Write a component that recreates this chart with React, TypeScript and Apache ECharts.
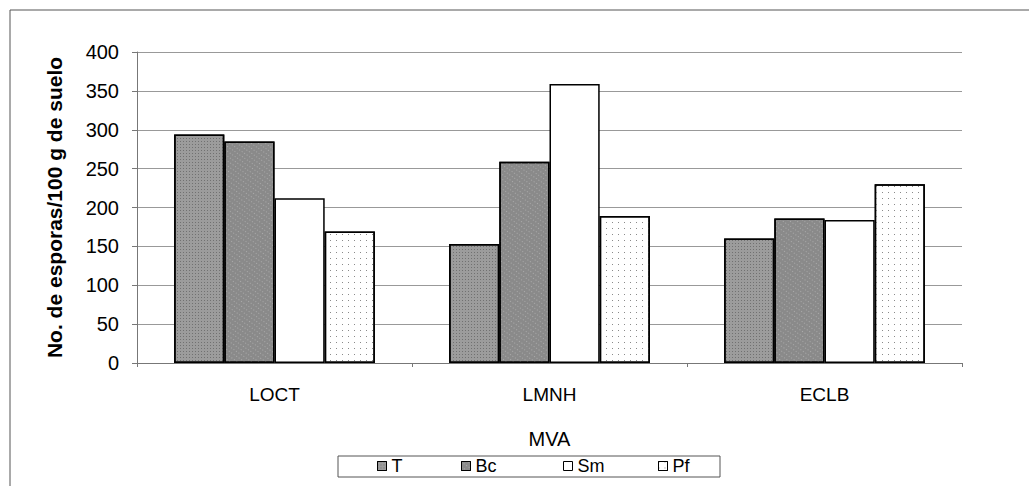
import React, { useEffect, useRef } from "react";
import * as echarts from "echarts";

const categories = ["LOCT", "LMNH", "ECLB"];
const seriesNames = ["T", "Bc", "Sm", "Pf"];
const valuesT = [294, 153, 160];
const valuesBc = [285, 259, 186];
const valuesSm = [212, 359, 184];
const valuesPf = [169, 189, 230];
const yTicks = [0, 50, 100, 150, 200, 250, 300, 350, 400];

const FONT = "'Liberation Sans', Arial, sans-serif";

export default function App() {
  const ref = useRef<HTMLDivElement>(null);
  useEffect(() => {
    if (!ref.current) return;
    const chart = echarts.init(ref.current, null, { renderer: "svg" });
    const styles = [
      {
        color: "#9c9c9c",
        borderColor: "#000",
        borderWidth: 1.5,
        decal: {
          symbol: "rect",
          symbolSize: 1,
          color: "rgba(60,60,60,0.45)",
          dashArrayX: [1, 2],
          dashArrayY: [1, 2],
          rotation: 0,
        },
      },
      {
        color: "#8a8a8a",
        borderColor: "#000",
        borderWidth: 1.5,
        decal: {
          symbol: "rect",
          symbolSize: 1,
          color: "rgba(210,210,210,0.45)",
          dashArrayX: [1, 2],
          dashArrayY: [1, 3],
          rotation: 0.6,
        },
      },
      { color: "#ffffff", borderColor: "#000", borderWidth: 1.5 },
      {
        color: "#ffffff",
        borderColor: "#000",
        borderWidth: 1.5,
        decal: {
          symbol: "rect",
          symbolSize: 1,
          color: "#8a8a8a",
          dashArrayX: [1, 5],
          dashArrayY: [1, 5],
          rotation: 0,
        },
      },
    ];
    const dataSets = [valuesT, valuesBc, valuesSm, valuesPf];
    const legendX = [377, 461, 563, 658];
    chart.setOption({
      animation: false,
      textStyle: { fontFamily: FONT, color: "#000" },
      grid: { left: 137, right: 67, top: 52, bottom: 123 },
      xAxis: {
        type: "category",
        data: categories,
        name: "MVA",
        nameLocation: "middle",
        nameGap: 66,
        nameTextStyle: { fontSize: 20, fontFamily: FONT, color: "#000" },
        axisLine: { lineStyle: { color: "#777", width: 1 } },
        axisTick: { show: true, length: 4, lineStyle: { color: "#777" } },
        axisLabel: { fontSize: 19, color: "#000", margin: 22, fontFamily: FONT },
      },
      yAxis: {
        type: "value",
        min: 0,
        max: 400,
        interval: 50,
        name: "No. de esporas/100 g de suelo",
        nameLocation: "middle",
        nameGap: 72,
        nameTextStyle: { fontSize: 21, fontWeight: "bold", fontFamily: FONT, color: "#000" },
        axisLine: { show: true, lineStyle: { color: "#777", width: 1 } },
        axisTick: { show: true, length: 5, lineStyle: { color: "#777" } },
        axisLabel: {
          fontSize: 20,
          color: "#000",
          margin: 18,
          fontFamily: FONT,
          formatter: (v: number) => (yTicks.includes(v) ? String(v) : ""),
        },
        splitLine: { show: true, lineStyle: { color: "#999", width: 1 } },
      },
      legend: seriesNames.map((n, i) => ({
        data: [n],
        left: legendX[i],
        top: 457,
        padding: 0,
        itemWidth: 9,
        itemHeight: 9,
        itemGap: 8,
        icon: "rect",
        itemStyle: { borderColor: "#000", borderWidth: 1 },
        textStyle: { fontSize: 18, fontFamily: FONT, color: "#000", lineHeight: 18, padding: [0, 0, 0, 0] },
        selectedMode: false,
      })),
      series: seriesNames.map((n, i) => ({
        name: n,
        type: "bar",
        data: dataSets[i],
        barGap: "0%",
        barCategoryGap: "27%",
        itemStyle: styles[i],
        emphasis: { disabled: true },
      })),
      graphic: [
        { type: "line", shape: { x1: 10, y1: 10, x2: 1029, y2: 10 }, style: { stroke: "#555", lineWidth: 1 } },
        { type: "line", shape: { x1: 10, y1: 10, x2: 10, y2: 486 }, style: { stroke: "#555", lineWidth: 1 } },
        {
          type: "rect",
          shape: { x: 338, y: 456, width: 382, height: 21 },
          style: { fill: "none", stroke: "#555", lineWidth: 1 },
          silent: true,
        },
      ],
    });
    return () => chart.dispose();
  }, []);
  return (
    <div
      ref={ref}
      style={{ position: "fixed", left: 0, top: 0, width: 1029, height: 486, background: "#fff" }}
    />
  );
}
